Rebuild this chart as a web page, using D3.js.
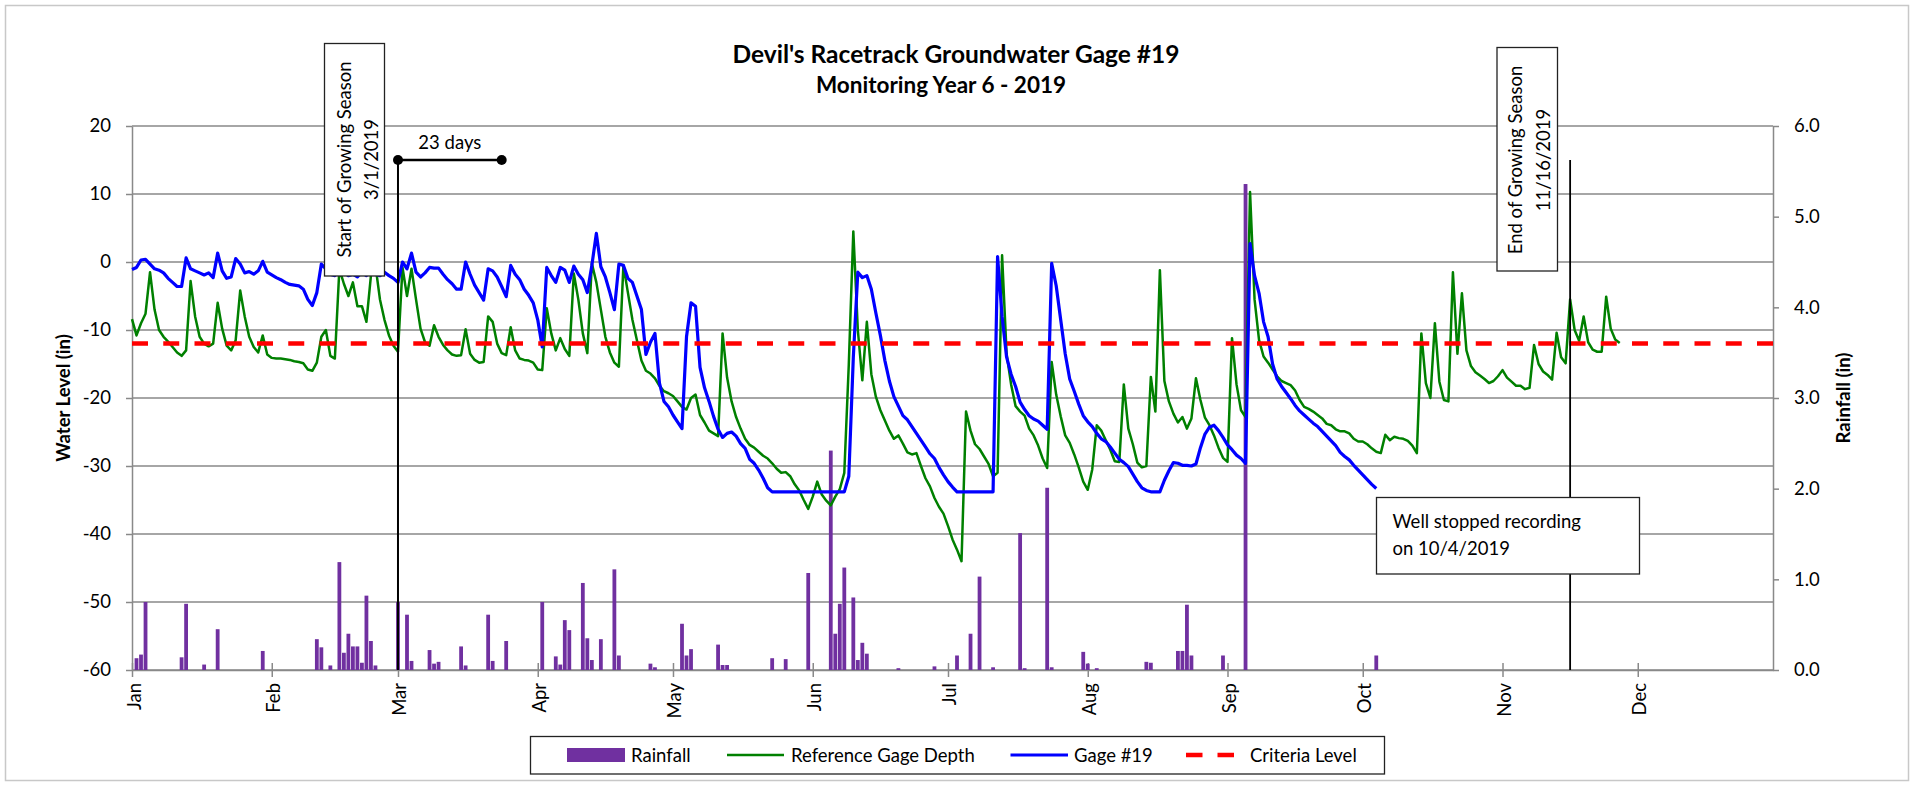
<!DOCTYPE html>
<html>
<head>
<meta charset="utf-8">
<script src="https://cdn.jsdelivr.net/npm/d3@7"></script>
<style>
  body { margin: 0; background: #fff; }
  svg { display: block; }
  text { font-family: Lato, "Open Sans", "Liberation Sans", sans-serif; fill: #000; }
</style>
</head>
<body>
<svg id="chart" width="1915" height="785"></svg>
<script>
// ---- data ---------------------------------------------------------------
const yearStart = Date.UTC(2019, 0, 1);
const monthLabels = ["Jan","Feb","Mar","Apr","May","Jun","Jul","Aug","Sep","Oct","Nov","Dec"];
const levelTicks = [-60, -50, -40, -30, -20, -10, 0, 10, 20];
const rainTicks = [0, 1, 2, 3, 4, 5, 6];
const criteriaLevel = -12;

// daily rainfall: day offset from Jan 1, inches
const rainDay = [1,2,3,11,12,16,19,29,41,42,44,46,47,48,49,50,51,52,53,54,59,61,62,66,67,68,73,74,79,80,83,91,94,95,96,97,100,101,102,104,107,108,115,116,122,123,124,130,131,132,142,145,150,155,156,157,158,160,161,162,163,170,178,183,186,188,191,197,198,203,204,211,212,214,225,226,232,233,234,235,242,247,276];
const rainInches = [0.13,0.17,0.75,0.14,0.73,0.06,0.45,0.21,0.34,0.25,0.05,1.19,0.19,0.40,0.26,0.26,0.08,0.82,0.32,0.05,0.75,0.61,0.10,0.22,0.07,0.09,0.26,0.05,0.61,0.10,0.32,0.75,0.15,0.06,0.55,0.44,0.96,0.35,0.11,0.34,1.11,0.16,0.07,0.03,0.51,0.16,0.23,0.28,0.055,0.055,0.13,0.12,1.07,2.42,0.40,0.73,1.13,0.80,0.11,0.30,0.18,0.02,0.04,0.16,0.40,1.03,0.03,1.51,0.02,2.01,0.03,0.20,0.07,0.02,0.09,0.08,0.21,0.21,0.72,0.16,0.16,5.36,0.16];

// reference gage depth (in), one value per day from Jan 1
const refGageDepth = [
  -8.4,-10.8,-9.0,-7.6,-1.5,-7.0,-10.0,-11.0,-11.7,-12.5,
  -13.3,-13.8,-13.0,-2.8,-8.0,-11.0,-12.0,-12.4,-12.0,-6.0,
  -9.8,-12.3,-13.0,-11.5,-4.2,-8.0,-11.0,-12.5,-13.3,-10.8,
  -13.6,-14.1,-14.2,-14.2,-14.3,-14.4,-14.6,-14.7,-14.9,-15.8,
  -16.0,-14.8,-11.0,-10.0,-13.8,-14.2,-1.0,-3.2,-5.0,-3.0,
  -6.5,-6.5,-8.8,-2.0,-0.5,-5.5,-8.5,-10.8,-12.3,-13.2,
  -0.8,-5.0,-1.0,-5.5,-9.8,-11.8,-12.3,-9.3,-11.0,-12.2,
  -13.0,-13.6,-13.8,-13.7,-9.9,-13.5,-14.4,-14.8,-14.7,-8.0,
  -8.8,-12.0,-13.4,-13.7,-9.6,-13.0,-14.2,-14.4,-14.5,-14.8,
  -15.8,-15.9,-6.8,-10.5,-13.0,-11.2,-12.8,-13.8,-1.7,-5.5,
  -10.5,-13.4,-0.2,-3.0,-7.0,-11.0,-13.3,-14.8,-15.4,-0.5,
  -4.5,-8.5,-11.5,-14.5,-16.0,-16.4,-17.1,-18.2,-19.0,-19.3,
  -19.7,-20.5,-21.3,-21.7,-20.0,-19.5,-22.5,-23.6,-24.8,-25.2,
  -25.6,-10.5,-17.0,-20.5,-22.8,-24.5,-26.0,-26.9,-27.3,-27.9,
  -28.5,-28.9,-29.6,-30.4,-31.0,-30.9,-31.5,-32.7,-33.6,-35.0,
  -36.3,-34.5,-32.3,-34.2,-35.1,-35.8,-34.5,-33.4,-31.0,-15.0,
  4.5,-10.0,-17.4,-8.8,-16.5,-19.8,-21.8,-23.3,-24.8,-26.0,
  -25.5,-26.7,-28.0,-28.3,-28.1,-30.0,-31.8,-33.0,-34.7,-36.0,
  -37.0,-38.8,-40.8,-42.3,-44.0,-22.0,-24.8,-26.8,-27.5,-28.6,
  -29.7,-31.5,-31.0,1.0,-13.5,-18.0,-21.2,-22.0,-22.6,-24.5,
  -25.5,-27.0,-28.9,-30.3,-14.7,-19.5,-22.7,-25.5,-26.6,-28.3,
  -30.2,-32.3,-33.5,-30.5,-24.0,-24.8,-26.2,-27.6,-29.3,-29.4,
  -18.0,-24.5,-26.8,-29.5,-30.2,-30.0,-16.9,-22.0,-1.2,-17.5,
  -20.5,-22.3,-23.6,-22.8,-24.5,-23.0,-17.1,-20.3,-22.9,-24.0,
  -25.5,-27.3,-28.8,-29.4,-11.2,-18.0,-21.8,-22.8,10.3,-5.5,
  -11.5,-13.9,-14.8,-15.8,-16.8,-17.5,-17.8,-18.1,-18.9,-20.3,
  -21.3,-21.6,-22.0,-22.5,-23.0,-23.8,-24.0,-24.6,-24.9,-24.9,
  -25.2,-26.0,-26.4,-26.4,-26.8,-27.4,-27.9,-28.1,-25.4,-26.2,
  -25.7,-25.9,-26.0,-26.3,-27.0,-28.1,-10.5,-17.8,-20.0,-9.0,
  -17.6,-20.3,-20.5,-1.5,-13.5,-4.6,-13.0,-15.3,-16.2,-16.7,
  -17.2,-17.8,-17.5,-16.8,-15.9,-17.0,-17.6,-18.2,-18.2,-18.7,
  -18.5,-12.2,-15.0,-16.1,-16.6,-17.3,-10.4,-14.0,-14.9,-5.5,
  -10.0,-11.6,-8.0,-11.8,-12.9,-13.2,-13.2,-5.1,-9.8,-11.4,-11.9
];

// Gage #19 depth (in), one value per day from Jan 1 until the well stopped
const gage19Depth = [
  -1.1,-0.8,0.3,0.4,-0.3,-1.0,-1.2,-1.6,-2.4,-3.0,
  -3.6,-3.6,0.6,-1.0,-1.3,-1.6,-1.9,-1.6,-2.3,1.3,
  -1.3,-2.4,-2.2,0.5,-0.3,-1.6,-1.4,-1.8,-1.3,0.1,
  -1.5,-1.9,-2.3,-2.6,-3.0,-3.3,-3.4,-3.5,-4.0,-5.5,
  -6.4,-4.5,-0.3,-1.0,-1.8,-2.0,-1.0,-1.5,-2.0,-1.8,
  -2.2,-1.5,-2.0,-1.2,-1.8,-2.0,-1.5,-2.0,-2.4,-3.0,
  0.0,-1.0,1.3,-1.5,-2.2,-1.6,-0.8,-0.9,-0.9,-1.8,
  -2.6,-3.2,-4.0,-4.0,0.0,-1.8,-3.4,-4.5,-5.6,-1.0,
  -1.3,-2.2,-3.6,-5.1,-0.5,-1.8,-2.6,-4.0,-4.9,-6.0,
  -8.5,-12.5,-0.8,-2.0,-3.0,-0.8,-1.2,-3.0,-0.6,-1.8,
  -2.6,-4.5,-0.5,4.2,-0.7,-2.2,-4.5,-7.0,-0.3,-0.5,
  -2.4,-3.0,-5.0,-7.0,-13.6,-11.8,-10.5,-17.8,-20.5,-21.3,
  -22.5,-23.5,-24.5,-11.0,-6.0,-6.5,-15.5,-18.5,-20.5,-22.7,
  -24.6,-25.8,-25.2,-25.0,-25.6,-26.7,-27.4,-29.0,-29.6,-30.6,
  -31.8,-33.2,-33.8,-33.8,-33.8,-33.8,-33.8,-33.8,-33.8,-33.8,
  -33.8,-33.8,-33.8,-33.8,-33.8,-33.8,-33.8,-33.8,-33.8,-31.5,
  -14.0,-1.5,-2.3,-2.0,-4.0,-7.5,-10.8,-14.5,-17.5,-19.8,
  -21.2,-22.6,-23.2,-24.2,-25.2,-26.2,-27.2,-28.2,-28.9,-30.2,
  -31.3,-32.3,-33.1,-33.8,-33.8,-33.8,-33.8,-33.8,-33.8,-33.8,
  -33.8,-33.8,0.8,-8.0,-14.0,-16.5,-18.3,-20.6,-21.7,-22.6,
  -23.1,-23.4,-24.0,-24.6,-0.2,-3.5,-8.5,-13.5,-17.2,-19.0,
  -20.9,-22.6,-23.5,-24.2,-25.2,-26.0,-26.4,-27.2,-28.1,-29.0,
  -29.5,-30.1,-31.2,-32.3,-33.2,-33.6,-33.8,-33.8,-33.8,-32.1,
  -30.7,-29.5,-29.6,-29.9,-29.9,-30.0,-29.7,-27.3,-25.3,-24.3,
  -24.0,-24.8,-25.8,-26.9,-27.6,-28.4,-28.9,-29.6,2.7,-2.0,
  -4.6,-8.8,-11.0,-15.0,-17.2,-18.3,-19.2,-20.1,-21.1,-21.9,
  -22.5,-23.1,-23.7,-24.2,-24.9,-25.6,-26.3,-27.0,-28.0,-28.6,
  -29.1,-29.9,-30.6,-31.3,-32.0,-32.7,-33.3
];

// ---- layout -------------------------------------------------------------
const W = 1915, H = 785;
const plot = { left: 132, right: 1773, top: 126, bottom: 670 };
const dayToDate = d => new Date(yearStart + d * 864e5);
const plainNumber = d => String(d);            // hyphen-minus, as in the source workbook

const svg = d3.select("#chart");
const x = d3.scaleUtc()
  .domain([new Date(Date.UTC(2019, 0, 1)), new Date(Date.UTC(2019, 11, 31))])
  .range([plot.left, plot.right]);
const yLevel = d3.scaleLinear().domain([-60, 20]).range([plot.bottom, plot.top]);
const yRain = d3.scaleLinear().domain([0, 6]).range([plot.bottom, plot.top]);

const gridColor = "#898989";
const fontSize = 18.5;

// chart frame
svg.append("rect")
  .attr("x", 5.5).attr("y", 5.5).attr("width", W - 12).attr("height", H - 10)
  .attr("fill", "#fff").attr("stroke", "#c8c8c8").attr("stroke-width", 1.5);

// title
svg.append("text").attr("x", 956).attr("y", 63)
  .attr("text-anchor", "middle").attr("font-size", 24.5).attr("font-weight", 700)
  .text("Devil's Racetrack Groundwater Gage #19");
svg.append("text").attr("x", 941).attr("y", 92.5)
  .attr("text-anchor", "middle").attr("font-size", 22.5).attr("font-weight", 700)
  .text("Monitoring Year 6 - 2019");

// horizontal gridlines
svg.append("g").selectAll("line").data(levelTicks).join("line")
  .attr("x1", plot.left).attr("x2", plot.right)
  .attr("y1", d => yLevel(d)).attr("y2", d => yLevel(d))
  .attr("stroke", gridColor).attr("stroke-width", 1.5);

// left axis
const leftAxis = svg.append("g").attr("transform", `translate(${plot.left},0)`)
  .call(d3.axisLeft(yLevel).tickValues(levelTicks).tickFormat(plainNumber)
    .tickSize(6).tickSizeOuter(0).tickPadding(15));
leftAxis.select(".domain").attr("stroke", gridColor).attr("stroke-width", 1.5);
leftAxis.selectAll(".tick line").attr("stroke", gridColor).attr("stroke-width", 1.5);
leftAxis.selectAll(".tick text").attr("font-size", fontSize).attr("font-family", null).attr("fill", "#000");

// right axis
const rightAxis = svg.append("g").attr("transform", `translate(${plot.right},0)`)
  .call(d3.axisRight(yRain).tickValues(rainTicks).tickFormat(d => d.toFixed(1))
    .tickSize(6).tickSizeOuter(0).tickPadding(15));
rightAxis.select(".domain").attr("stroke", gridColor).attr("stroke-width", 1.5);
rightAxis.selectAll(".tick line").attr("stroke", gridColor).attr("stroke-width", 1.5);
rightAxis.selectAll(".tick text").attr("font-size", fontSize).attr("font-family", null).attr("fill", "#000");

// bottom axis with month ticks crossing the baseline
const monthStarts = monthLabels.map((m, i) => new Date(Date.UTC(2019, i, 1)));
const bottomAxis = svg.append("g").attr("transform", `translate(0,${plot.bottom})`)
  .call(d3.axisBottom(x).tickValues(monthStarts)
    .tickFormat((d, i) => monthLabels[i]).tickSize(7).tickSizeOuter(0));
bottomAxis.select(".domain").attr("stroke", gridColor).attr("stroke-width", 1.5);
bottomAxis.selectAll(".tick line").attr("y1", -7).attr("stroke", gridColor).attr("stroke-width", 1.5);
bottomAxis.selectAll(".tick text")
  .attr("font-size", fontSize).attr("font-family", null).attr("fill", "#000")
  .attr("transform", "rotate(-90)").attr("text-anchor", "end")
  .attr("x", -13).attr("y", 8).attr("dy", null);

// axis titles
svg.append("text").attr("transform", "translate(70,398) rotate(-90)")
  .attr("text-anchor", "middle").attr("font-size", 18.5).attr("font-weight", 700)
  .text("Water Level (in)");
svg.append("text").attr("transform", "translate(1850,398) rotate(-90)")
  .attr("text-anchor", "middle").attr("font-size", 18.5).attr("font-weight", 700)
  .text("Rainfall (in)");

// rainfall bars
const barW = 3.8;
svg.append("g").selectAll("rect")
  .data(rainDay.map((d, i) => ({ date: dayToDate(d), r: rainInches[i] })))
  .join("rect")
  .attr("x", d => x(d.date) - barW / 2)
  .attr("y", d => yRain(d.r))
  .attr("width", barW)
  .attr("height", d => plot.bottom - yRain(d.r))
  .attr("fill", "#7030a0");

// water level lines
const levelLine = d3.line().x(d => x(d.date)).y(d => yLevel(d.v));
const toSeries = arr => arr.map((v, i) => ({ date: dayToDate(i), v }));
svg.append("path").datum(toSeries(refGageDepth))
  .attr("d", levelLine).attr("fill", "none")
  .attr("stroke", "#008000").attr("stroke-width", 2.5).attr("stroke-linejoin", "round");
svg.append("path").datum(toSeries(gage19Depth))
  .attr("d", levelLine).attr("fill", "none")
  .attr("stroke", "#0000ff").attr("stroke-width", 3.2).attr("stroke-linejoin", "round");

// criteria level
svg.append("line")
  .attr("x1", plot.left).attr("x2", plot.right)
  .attr("y1", yLevel(criteriaLevel)).attr("y2", yLevel(criteriaLevel))
  .attr("stroke", "#ff0000").attr("stroke-width", 4.5).attr("stroke-dasharray", "16,15.25");

// growing season start marker and 23-day span
const seasonStart = new Date(Date.UTC(2019, 2, 1));
const spanEnd = new Date(Date.UTC(2019, 2, 24));
const seasonEnd = new Date(Date.UTC(2019, 10, 16));
svg.append("line")
  .attr("x1", x(seasonStart)).attr("x2", x(seasonStart))
  .attr("y1", yLevel(15)).attr("y2", plot.bottom)
  .attr("stroke", "#000").attr("stroke-width", 2);
svg.append("line")
  .attr("x1", x(seasonStart)).attr("x2", x(spanEnd))
  .attr("y1", yLevel(15)).attr("y2", yLevel(15))
  .attr("stroke", "#000").attr("stroke-width", 2.5);
svg.append("g").selectAll("circle").data([seasonStart, spanEnd]).join("circle")
  .attr("cx", d => x(d)).attr("cy", yLevel(15)).attr("r", 5).attr("fill", "#000");
svg.append("text")
  .attr("x", (x(seasonStart) + x(spanEnd)) / 2).attr("y", yLevel(15) - 11)
  .attr("text-anchor", "middle").attr("font-size", fontSize).text("23 days");

// growing season end marker
svg.append("line")
  .attr("x1", x(seasonEnd)).attr("x2", x(seasonEnd))
  .attr("y1", yLevel(15)).attr("y2", plot.bottom)
  .attr("stroke", "#000").attr("stroke-width", 1.8);

// callout boxes
function callout(x0, y0, w, h) {
  svg.append("rect").attr("x", x0).attr("y", y0).attr("width", w).attr("height", h)
    .attr("fill", "#fff").attr("stroke", "#222").attr("stroke-width", 1.3);
}
function verticalLabel(bx, cy, str) {
  svg.append("text").attr("transform", `translate(${bx},${cy}) rotate(-90)`)
    .attr("text-anchor", "middle").attr("font-size", fontSize).text(str);
}
callout(324.5, 43.5, 60, 232.5);
verticalLabel(350.5, 159.5, "Start of Growing Season");
verticalLabel(378, 159.5, "3/1/2019");

callout(1497, 47.5, 60.5, 223.5);
verticalLabel(1521.5, 160, "End of Growing Season");
verticalLabel(1549.5, 160, "11/16/2019");

callout(1376.5, 497.5, 263, 76.5);
svg.append("text").attr("x", 1392.5).attr("y", 528).attr("font-size", fontSize).text("Well stopped recording");
svg.append("text").attr("x", 1392.5).attr("y", 555).attr("font-size", fontSize).text("on 10/4/2019");

// legend
const lg = svg.append("g");
lg.append("rect").attr("x", 530.5).attr("y", 736.5).attr("width", 854).attr("height", 37.5)
  .attr("fill", "#fff").attr("stroke", "#222").attr("stroke-width", 1.3);
const legendY = 755;
lg.append("rect").attr("x", 567).attr("y", legendY - 7).attr("width", 58).attr("height", 14).attr("fill", "#7030a0");
lg.append("text").attr("x", 631).attr("y", legendY + 6.5).attr("font-size", fontSize).text("Rainfall");
lg.append("line").attr("x1", 727).attr("x2", 784).attr("y1", legendY).attr("y2", legendY)
  .attr("stroke", "#008000").attr("stroke-width", 2.5);
lg.append("text").attr("x", 791).attr("y", legendY + 6.5).attr("font-size", fontSize).text("Reference Gage Depth");
lg.append("line").attr("x1", 1010.5).attr("x2", 1068).attr("y1", legendY).attr("y2", legendY)
  .attr("stroke", "#0000ff").attr("stroke-width", 3.2);
lg.append("text").attr("x", 1074).attr("y", legendY + 6.5).attr("font-size", fontSize).text("Gage #19");
lg.append("line").attr("x1", 1186).attr("x2", 1234).attr("y1", legendY).attr("y2", legendY)
  .attr("stroke", "#ff0000").attr("stroke-width", 4.5).attr("stroke-dasharray", "16.5,15");
lg.append("text").attr("x", 1250).attr("y", legendY + 6.5).attr("font-size", fontSize).text("Criteria Level");
</script>
</body>
</html>
